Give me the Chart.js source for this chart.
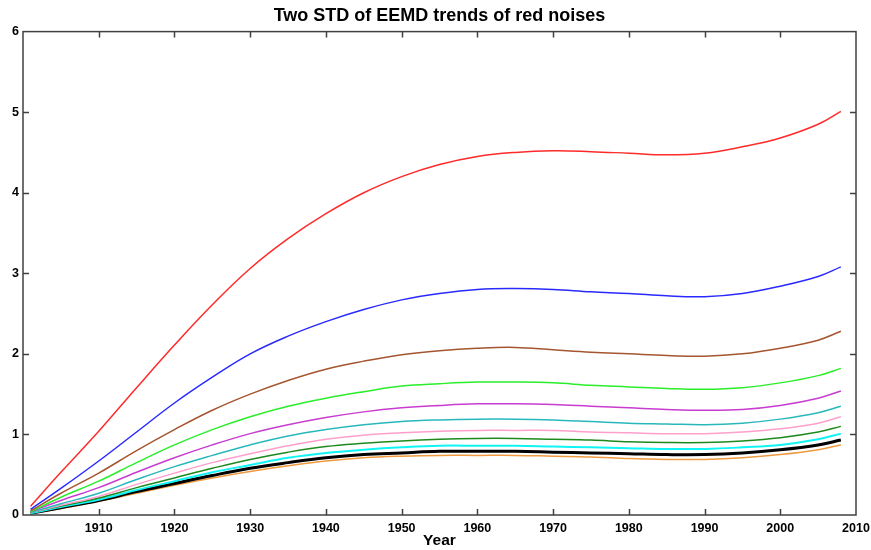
<!DOCTYPE html>
<html>
<head>
<meta charset="utf-8">
<script src="https://cdn.jsdelivr.net/npm/chart.js@4"></script>
<style>
  html, body { margin: 0; padding: 0; background: #fff; }
  #wrap { width: 871px; height: 550px; }
</style>
</head>
<body>
<div id="wrap"><canvas id="trends"></canvas></div>
<script>
const years = [1901, 1905, 1910, 1915, 1920, 1925, 1930, 1935, 1940, 1945, 1950, 1955,
  1960, 1965, 1970, 1975, 1980, 1985, 1990, 1995, 2000, 2005, 2008];

const red     = [0.11, 0.53, 1.04, 1.58, 2.11, 2.61, 3.06, 3.43, 3.74, 4.00, 4.20, 4.35,
  4.45, 4.50, 4.52, 4.51, 4.49, 4.47, 4.49, 4.57, 4.68, 4.85, 5.01];
const blue    = [0.07, 0.33, 0.67, 1.03, 1.39, 1.71, 2.00, 2.22, 2.40, 2.55, 2.67, 2.75,
  2.80, 2.81, 2.80, 2.77, 2.75, 2.72, 2.71, 2.75, 2.84, 2.96, 3.08];
const brown   = [0.05, 0.27, 0.52, 0.80, 1.06, 1.30, 1.50, 1.67, 1.81, 1.91, 1.99, 2.04,
  2.07, 2.08, 2.05, 2.02, 2.00, 1.98, 1.97, 2.00, 2.07, 2.17, 2.28];
const green   = [0.04, 0.22, 0.42, 0.65, 0.87, 1.06, 1.22, 1.35, 1.45, 1.53, 1.60, 1.63,
  1.65, 1.65, 1.64, 1.61, 1.59, 1.57, 1.56, 1.58, 1.64, 1.73, 1.82];
const magenta = [0.04, 0.18, 0.34, 0.53, 0.71, 0.87, 1.01, 1.12, 1.21, 1.28, 1.33, 1.36,
  1.38, 1.38, 1.37, 1.35, 1.33, 1.31, 1.30, 1.31, 1.36, 1.45, 1.54];
const teal    = [0.03, 0.14, 0.27, 0.44, 0.60, 0.74, 0.87, 0.98, 1.06, 1.12, 1.16, 1.18,
  1.19, 1.19, 1.18, 1.16, 1.14, 1.13, 1.12, 1.14, 1.19, 1.27, 1.35];
const pink    = [0.03, 0.12, 0.23, 0.38, 0.52, 0.65, 0.76, 0.86, 0.94, 0.99, 1.02, 1.04,
  1.05, 1.05, 1.05, 1.03, 1.02, 1.01, 1.01, 1.03, 1.07, 1.14, 1.22];
const dkgreen = [0.03, 0.11, 0.21, 0.34, 0.46, 0.58, 0.69, 0.78, 0.85, 0.89, 0.92, 0.94,
  0.95, 0.95, 0.94, 0.93, 0.91, 0.90, 0.90, 0.92, 0.96, 1.03, 1.10];
const cyan    = [0.02, 0.10, 0.19, 0.31, 0.42, 0.53, 0.62, 0.71, 0.77, 0.81, 0.84, 0.86,
  0.86, 0.86, 0.85, 0.84, 0.83, 0.82, 0.82, 0.84, 0.87, 0.94, 1.01];
const black   = [0.02, 0.09, 0.18, 0.29, 0.39, 0.49, 0.58, 0.65, 0.71, 0.75, 0.77, 0.79,
  0.79, 0.79, 0.78, 0.77, 0.76, 0.75, 0.75, 0.77, 0.81, 0.87, 0.93];
const orange  = [0.02, 0.08, 0.17, 0.27, 0.37, 0.46, 0.54, 0.61, 0.67, 0.71, 0.73, 0.74,
  0.74, 0.74, 0.73, 0.72, 0.70, 0.69, 0.69, 0.71, 0.75, 0.81, 0.87];

const xTicks = [1900, 1910, 1920, 1930, 1940, 1950, 1960, 1970, 1980, 1990, 2000, 2010];
const yTicks = [0, 1, 2, 3, 4, 5, 6];

const series = [
  { data: red, color: "#ff2a2a", width: 1.5 },
  { data: blue, color: "#2a2aff", width: 1.5 },
  { data: brown, color: "#a5552f", width: 1.5 },
  { data: green, color: "#2aee2a", width: 1.5 },
  { data: magenta, color: "#c83cd0", width: 1.5 },
  { data: teal, color: "#28b8bc", width: 1.5 },
  { data: pink, color: "#ff9fcc", width: 1.5 },
  { data: dkgreen, color: "#1e8a1e", width: 1.5 },
  { data: cyan, color: "#10f4f4", width: 2 },
  { data: black, color: "#000000", width: 3 },
  { data: orange, color: "#ee9a40", width: 1.5 },
];

// box frame with inward ticks on all four sides
const frame = {
  id: "frame",
  afterDraw(chart) {
    const { ctx, chartArea: a, scales } = chart;
    ctx.save();
    ctx.strokeStyle = "#404040";
    ctx.lineWidth = 1.5;
    ctx.strokeRect(a.left, a.top, a.right - a.left, a.bottom - a.top);
    const len = 6;
    ctx.beginPath();
    xTicks.slice(1, -1).forEach((v) => {
      const px = Math.round(scales.x.getPixelForValue(v)) + 0.5;
      ctx.moveTo(px, a.bottom); ctx.lineTo(px, a.bottom - len);
      ctx.moveTo(px, a.top); ctx.lineTo(px, a.top + len);
    });
    yTicks.slice(1, -1).forEach((v) => {
      const py = Math.round(scales.y.getPixelForValue(v)) + 0.5;
      ctx.moveTo(a.left, py); ctx.lineTo(a.left + len, py);
      ctx.moveTo(a.right, py); ctx.lineTo(a.right - len, py);
    });
    ctx.stroke();
    ctx.restore();
  },
};

const sans = "Liberation Sans, Arial, sans-serif";
const tickFont = { family: sans, size: 12.5, weight: "bold" };

new Chart(document.getElementById("trends"), {
  type: "line",
  data: {
    datasets: series.map((s) => ({
      data: s.data.map((v, i) => ({ x: years[i], y: v })),
      borderColor: s.color,
      borderWidth: s.width,
      pointRadius: 0,
      fill: false,
      tension: 0.4,
    })),
  },
  options: {
    responsive: true,
    maintainAspectRatio: false,
    animation: false,
    // left padding keeps the title centred over the plot box
    layout: { padding: { left: 8, right: 0, top: 0, bottom: 0 } },
    plugins: {
      legend: { display: false },
      tooltip: { enabled: false },
      title: {
        display: true,
        text: "Two STD of EEMD trends of red noises",
        color: "#000",
        font: { family: sans, size: 18, weight: "bold" },
        padding: { top: 5, bottom: 5 },
      },
    },
    scales: {
      x: {
        type: "linear",
        min: 1900,
        max: 2010,
        afterBuildTicks: (scale) => { scale.ticks = xTicks.map((v) => ({ value: v })); },
        afterFit: (scale) => {
          scale.height = 35;
          scale.paddingLeft = 0;
          scale.paddingRight = 15;
        },
        grid: { display: false, drawTicks: false, tickLength: 0 },
        border: { display: false },
        ticks: {
          color: "#000",
          font: tickFont,
          padding: 6,
          maxRotation: 0,
          callback: (v) => (v === 1900 ? "" : String(v)),
        },
        title: {
          display: true,
          text: "Year",
          color: "#000",
          font: { family: sans, size: 15.5, weight: "bold" },
          padding: { top: 0, bottom: 0 },
        },
      },
      y: {
        min: 0,
        max: 6,
        afterBuildTicks: (scale) => { scale.ticks = yTicks.map((v) => ({ value: v })); },
        afterFit: (scale) => { scale.width = 15; },
        grid: { display: false, drawTicks: false, tickLength: 0 },
        border: { display: false },
        ticks: { color: "#000", font: tickFont, padding: 4 },
      },
    },
  },
  plugins: [frame],
});
</script>
</body>
</html>
